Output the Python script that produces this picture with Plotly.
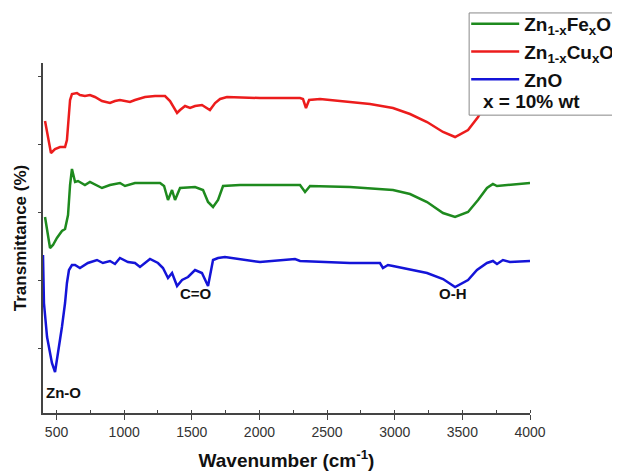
import plotly.graph_objects as go

# Wavenumber (cm^-1) and transmittance (arbitrary offset units)
fe_wn = [415, 452, 474, 503, 540, 563, 585, 600, 614, 637, 659, 710, 747, 791, 836, 895, 969, 1006,
         1080, 1265, 1295, 1324, 1354, 1376, 1413, 1524, 1583, 1620, 1657, 1694, 1731, 1856, 2300,
         2337, 2374, 2669, 2987, 3113, 3239, 3357, 3446, 3542, 3616, 3682, 3726, 3756, 3852, 4000]
fe_t = [193, 162, 165, 172, 179, 181, 195, 225, 241, 228, 229, 225, 228, 225, 222, 225, 227, 224,
        227, 227, 224, 210, 220, 210, 222, 223, 220, 208, 203, 210, 224, 225, 225,
        218, 224, 223, 220, 216, 208, 197, 193, 198, 210, 222, 226, 224, 225, 227]

cu_wn = [415, 459, 489, 526, 563, 577, 600, 614, 651, 673, 710, 747, 784, 836, 895, 932, 969, 1006,
         1043, 1080, 1154, 1228, 1302, 1339, 1391, 1413, 1450, 1487, 1524, 1575, 1634, 1672, 1709,
         1760, 2004, 2300, 2322, 2344, 2367, 2448, 2669, 2817, 2987, 3113, 3239, 3357, 3446, 3542,
         3616, 3682, 3741, 3852, 4000]
cu_t = [289, 257, 261, 263, 263, 270, 310, 316, 317, 315, 314, 315, 313, 309, 307, 309, 310, 309,
        308, 310, 313, 314, 314, 309, 297, 300, 304, 302, 304, 305, 300, 307, 311,
        313, 312, 312, 311, 302, 310, 311, 308, 306, 302, 296, 288, 278, 273, 280,
        293, 310, 322, 330, 332]

zno_wn = [400, 407, 430, 466, 489, 511, 540, 563, 577, 592, 614, 637, 673, 732, 799, 843, 895, 932,
          969, 1028, 1080, 1117, 1191, 1250, 1287, 1324, 1354, 1391, 1428, 1472, 1524, 1575, 1620,
          1657, 1694, 1745, 2004, 2263, 2300, 2669, 2891, 2913, 2950, 2987, 3239, 3357, 3446, 3542,
          3608, 3682, 3726, 3756, 3800, 3852, 4000]
zno_t = [155, 107, 73, 47, 38, 57, 83, 107, 127, 140, 145, 145, 142, 147, 150, 147, 149, 146,
         152, 148, 147, 143, 151, 147, 142, 132, 137, 124, 130, 133, 140, 137, 124,
         150, 152, 153, 148, 151, 149, 147, 147, 142, 145, 144, 137, 131, 123, 130,
         140, 147, 149, 146, 150, 148, 149]

x_ticks = [500, 1000, 1500, 2000, 2500, 3000, 3500, 4000]
peak_labels = ["Zn-O", "C=O", "O-H"]
peak_wn = [548, 1531, 3431]
peak_t = [18, 117, 117]

fig = go.Figure()
fig.add_trace(go.Scatter(x=fe_wn, y=fe_t, mode="lines", name="<b>Zn<sub>1-x</sub>Fe<sub>x</sub>O</b>",
                         line=dict(color="#1e8a1e", width=2.5)))
fig.add_trace(go.Scatter(x=cu_wn, y=cu_t, mode="lines", name="<b>Zn<sub>1-x</sub>Cu<sub>x</sub>O</b>",
                         line=dict(color="#ec1c1c", width=2.5)))
fig.add_trace(go.Scatter(x=zno_wn, y=zno_t, mode="lines", name="<b>ZnO</b>",
                         line=dict(color="#1414d8", width=2.5)))

# legend frame (white box that hides the curve behind it)
fig.add_shape(type="rect", xref="paper", yref="paper", x0=0.875, x1=1.25, y0=0.851, y1=1.143,
              fillcolor="white", line=dict(color="#888", width=1), layer="above")

for lab, wx, ty in zip(peak_labels, peak_wn, peak_t):
    fig.add_annotation(x=wx, y=ty, text="<b>%s</b>" % lab, showarrow=False,
                       font=dict(family="Liberation Sans, Arial", size=15, color="#111"))

fig.add_annotation(xref="paper", yref="paper", x=0.900, y=0.889, xanchor="left", yanchor="middle",
                   text="<b>x = 10% wt</b>", showarrow=False,
                   font=dict(family="Liberation Sans, Arial", size=19, color="#111"))

fig.update_layout(
    width=612, height=463,
    margin=dict(l=35, r=90, t=55, b=58, autoexpand=False),
    plot_bgcolor="white", paper_bgcolor="white",
    font=dict(family="Liberation Sans, Arial", color="#333"),
    showlegend=True,
    legend=dict(x=0.869, y=1.166, xanchor="left", yanchor="top", itemwidth=48,
                bgcolor="rgba(0,0,0,0)", borderwidth=0,
                font=dict(size=19, color="#111", family="Liberation Sans, Arial"),
                traceorder="normal", tracegroupgap=0),
    xaxis=dict(range=[400, 4000], tickvals=x_ticks, ticks="outside", ticklen=5, tickwidth=1,
               tickcolor="#444", showline=True, linecolor="#444", linewidth=1.5,
               showgrid=False, zeroline=False, automargin=False,
               tickfont=dict(size=14, color="#333"),
               minor=dict(ticks="inside", ticklen=3, tickcolor="#444", dtick=250, tick0=0,
                          showgrid=False),
               title=dict(text="<b>Wavenumber (cm<sup>-1</sup>)</b>", standoff=17,
                          font=dict(size=19, color="#111"))),
    yaxis=dict(range=[-3, 347], tick0=62, dtick=68, ticks="outside", ticklen=3, tickcolor="#444",
               showticklabels=False, showline=True, linecolor="#444", linewidth=1.5,
               showgrid=False, zeroline=False, automargin=False,
               title=dict(text="<b>Transmittance (%)</b>", standoff=7,
                          font=dict(size=17, color="#111"))),
)

fig.write_html("out.html", config={"displayModeBar": False})
